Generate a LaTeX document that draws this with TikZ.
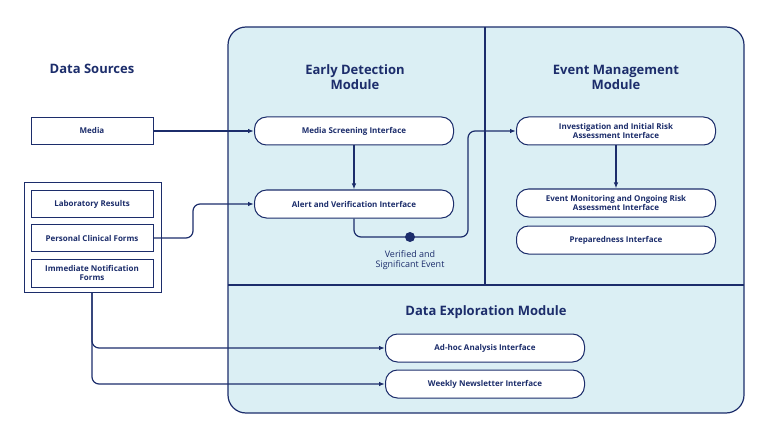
\documentclass[tikz,border=0pt]{standalone}
\usepackage{fontspec}
\setmainfont{Open Sans}
\usetikzlibrary{arrows.meta}
\definecolor{navy}{HTML}{1C2D6B}
\definecolor{panel}{HTML}{DBEFF4}
\tikzset{
  box/.style={draw=navy, line width=1pt, fill=white, minimum width=122pt, minimum height=27pt, font=\fontsize{8}{9.5}\selectfont\bfseries, text=navy, align=center},
  iface/.style={box, rounded corners=12pt, minimum width=199pt, minimum height=28pt},
  title/.style={text=navy, font=\fontsize{13}{15}\selectfont\bfseries, align=center},
  link/.style={draw=navy, line width=1.2pt, rounded corners=7pt, -{Latex[length=6pt]}}
}
\begin{document}
\begin{tikzpicture}[x=1pt, y=-1pt]
\useasboundingbox (0,0) rectangle (766,433);
% Panel
    \draw[navy, fill=panel, line width=1.2pt, rounded corners=18pt] (228,27) rectangle (744,413);
    \draw[navy, line width=1.2pt] (485,27) -- (485,285);
    \draw[navy, line width=1.2pt] (228,285) -- (744,285);
% Titles
    \node[title] (tsrc) at (92,69) {Data Sources};
    \node[title] (tdet) at (355,77) {Early Detection\\Module};
    \node[title] (tevt) at (616,77) {Event Management\\Module};
    \node[title] (texp) at (486,312) {Data Exploration Module};
% Sources
    \node[box] (media) at (92,131) {Media};
    \draw[navy, line width=1pt, fill=white] (24,183) rectangle (161,292);
    \node[box] (lab) at (92,204) {Laboratory Results};
    \node[box] (pcf) at (92,238) {Personal Clinical Forms};
    \node[box, minimum height=28pt] (inf) at (92,273) {Immediate Notification\\Forms};
    \coordinate (grp) at (92,292);
% Interfaces
    \node[iface] (screen) at (354,131) {Media Screening Interface};
    \node[iface] (alert) at (354,204) {Alert and Verification Interface};
    \node[iface] (invest) at (616,131) {Investigation and Initial Risk\\Assessment Interface};
    \node[iface] (monitor) at (616,203) {Event Monitoring and Ongoing Risk\\Assessment Interface};
    \node[iface] (prep) at (616,240) {Preparedness Interface};
    \node[iface] (adhoc) at (485,348) {Ad-hoc Analysis Interface};
    \node[iface] (weekly) at (485,384) {Weekly Newsletter Interface};
% Connectors
    \draw[link] (media) -- (screen);
    \draw[link] (pcf.east) -- (193,238) -- (193,204) -- (alert.west);
    \draw[link] (screen) -- (alert);
    \draw[link] (invest) -- (monitor);
    \coordinate (ev) at (410,237);
    \draw[link] (alert.south) -- (354,237) -- (468,237) -- (468,131) -- (invest.west);
    \fill[navy] (ev) circle (5pt);
    \node[text=navy, font=\fontsize{9}{10.5}\selectfont, align=center] (evlab) at (410,260) {Verified and\\Significant Event};
    \draw[link] (grp) -- (92,348) -- (adhoc.west);
    \draw[link] (grp) -- (92,384) -- (weekly.west);
\end{tikzpicture}
\end{document}
